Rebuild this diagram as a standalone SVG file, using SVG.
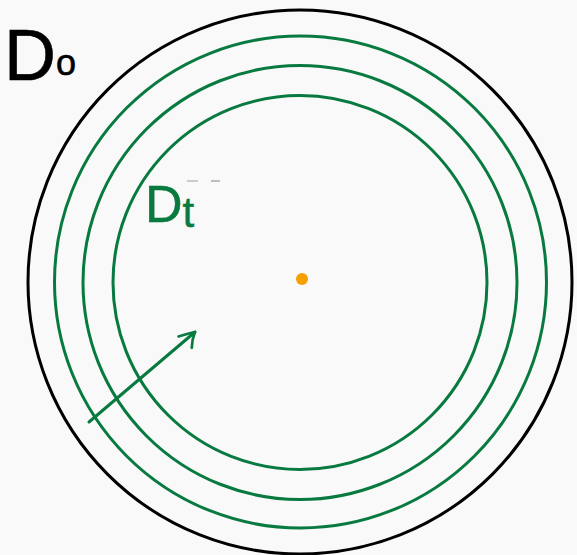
<svg xmlns="http://www.w3.org/2000/svg" width="577" height="555" viewBox="0 0 577 555">
<style>
.ring{fill:none;stroke:#087a3f;stroke-width:3}
.lbl{font-family:"Liberation Sans",Arial,sans-serif}
</style>
<defs>
<marker id="ah" markerWidth="20" markerHeight="20" refX="0" refY="0" orient="auto" markerUnits="userSpaceOnUse" viewBox="-20 -10 22 20" overflow="visible">
<path d="M-17,-8 Q-6,-3 0,0 Q-8,4 -14,11" fill="none" stroke="#087a3f" stroke-width="3" stroke-linecap="round" stroke-linejoin="round"/>
</marker>
</defs>
<rect width="577" height="555" fill="#f9f9f9"/>
<g id="outer">
<circle cx="300" cy="282" r="272" fill="none" stroke="#000" stroke-width="3"/>
</g>
<g id="ring1"><circle class="ring" cx="300.5" cy="282" r="246"/></g>
<g id="ring2"><circle class="ring" cx="300" cy="282.5" r="217"/></g>
<g id="ring3"><circle class="ring" cx="300" cy="282.5" r="187"/></g>
<g id="center"><circle cx="302" cy="279" r="6" fill="#f59f00"/></g>
<g id="label-do" class="lbl">
<text x="4" y="80" fill="#000" stroke="#000" stroke-width="0.6"><tspan font-size="72">D</tspan><tspan font-size="36" dy="-5">o</tspan></text>
</g>
<g id="label-dt" class="lbl">
<text x="145" y="222" fill="#087a3f" stroke="#087a3f" stroke-width="0.5"><tspan font-size="52">D</tspan><tspan font-size="42" dy="5">t</tspan></text>
<line x1="187" y1="181" x2="198" y2="181" stroke="#bbb" stroke-width="1.5"/>
<line x1="211" y1="181" x2="220" y2="181" stroke="#aaa" stroke-width="1.5"/>
</g>
<g id="connectors">
<path d="M89,422 L195,332" fill="none" stroke="#087a3f" stroke-width="3" stroke-linecap="round" marker-end="url(#ah)"/>
</g>
</svg>
